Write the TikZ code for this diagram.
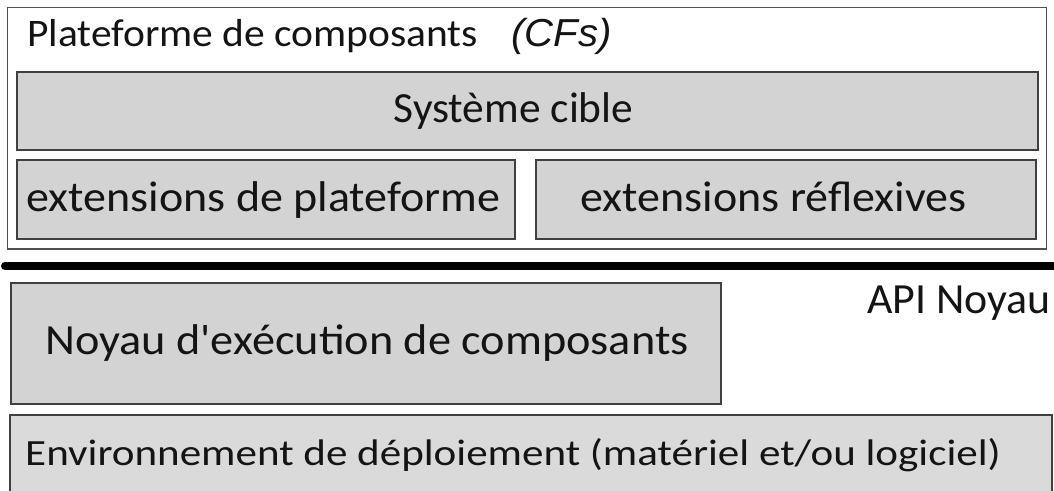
\documentclass[tikz,border=0pt]{standalone}
\usepackage{fontspec}
\setmainfont{Carlito}[Ligatures=TeXOff]
\newfontfamily\cfsfont{Liberation Sans}
\definecolor{boxfill}{RGB}{211,211,211}
\definecolor{envfill}{RGB}{218,218,218}
\definecolor{boxline}{RGB}{64,64,64}
\definecolor{frameline}{RGB}{80,80,80}
\definecolor{ink}{RGB}{20,20,20}
\tikzset{
  panel/.style={draw=frameline, line width=1.6pt, fill=white, anchor=north west, inner sep=0pt},
  layer/.style={draw=boxline, line width=2pt, fill=boxfill, anchor=north west, inner sep=0pt},
  lbl/.style={inner sep=0pt, text=ink, transform shape, font=\fontsize{43}{50}\selectfont},
  title/.style={inner sep=0pt, text=ink, anchor=base west, transform shape, font=\fontsize{39}{46}\selectfont},
  apiline/.style={line width=8pt, draw=black, line cap=round}
}
\begin{document}
\begin{tikzpicture}[x=1pt,y=-1pt]
\useasboundingbox (0,0) rectangle (1054,490);
% component platform frame and its contents
\node[panel, minimum width=1039pt, minimum height=241.5pt] (platform) at (6.5,6.5) {};
\node[title, xscale=1.064] (ptitle) at (27,46) {Plateforme de composants};
\node[title, xscale=1.03, font=\fontsize{39}{46}\cfsfont\itshape] (cfs) at (511,46) {(CFs)};
\node[layer, minimum width=1021pt, minimum height=78.5pt] (target) at (16,70.5) {};
\node[lbl, anchor=base, xscale=1.01] (targettxt) at (513.5,122.7) {Système cible};
\node[layer, minimum width=498.5pt, minimum height=78.5pt] (extp) at (15.5,159) {};
\node[lbl, anchor=base, xscale=1.07] (extptxt) at (263.5,211) {extensions de plateforme};
\node[layer, minimum width=500pt, minimum height=78.5pt] (extr) at (535,159) {};
\node[lbl, anchor=base, xscale=1.07] (extrtxt) at (773.5,211) {extensions réflexives};
% kernel API boundary
\coordinate (apiL) at (5,266);
\coordinate (apiR) at (1060,266);
\draw[apiline] (apiL) -- (apiR);
\node[lbl, anchor=base west, xscale=1.02] (api) at (867,313) {API Noyau};
% execution kernel
\node[layer, minimum width=710pt, minimum height=121pt] (kernel) at (10,282) {};
\node[lbl, anchor=base west, xscale=1.076] (kerneltxt) at (45,354) {Noyau d'exécution de composants};
% deployment environment
\node[layer, fill=envfill, minimum width=1042pt, minimum height=90pt] (env) at (9,414) {};
\node[inner sep=0pt, anchor=base west, text=ink, transform shape, xscale=1.164, font=\fontsize{37}{44}\selectfont] (envtxt) at (25,465) {Environnement de déploiement (matériel et/ou logiciel)};
\end{tikzpicture}
\end{document}
